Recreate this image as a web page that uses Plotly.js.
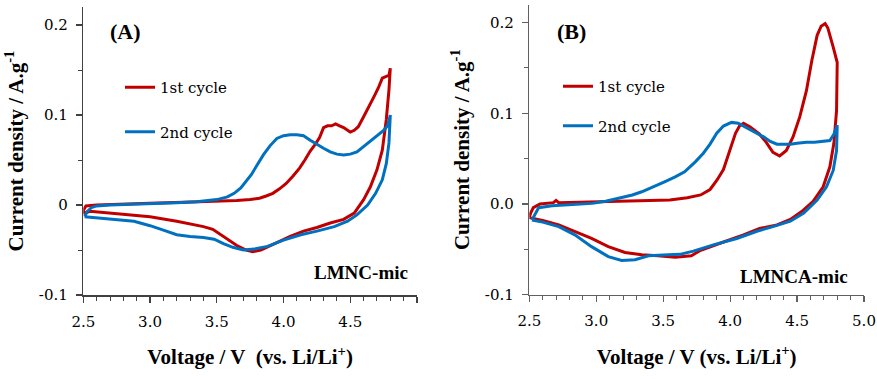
<!DOCTYPE html>
<html>
<head>
<meta charset="utf-8">
<script src="https://cdn.plot.ly/plotly-3.0.1.min.js"></script>
<style>html,body{margin:0;padding:0;background:#fff;}#chart{width:877px;height:379px;}</style>
</head>
<body>
<div id="chart"></div>
<script>
// ---- Data ----
const seriesNames = ["1st cycle", "2nd cycle"];
const panelLabels = ["(A)", "(B)"];
const sampleNames = ["LMNC-mic", "LMNCA-mic"];
const xTickVals = [2.5, 3.0, 3.5, 4.0, 4.5, 5.0];
const xTickTextA = ["2.5", "3.0", "3.5", "4.0", "4.5", " "];
const xTickTextB = ["2.5", "3.0", "3.5", "4.0", "4.5", "5.0"];
const yTickVals = [-0.1, 0, 0.1, 0.2];
const yTickTextA = ["-0.1", "0", "0.1", "0.2"];
const yTickTextB = ["-0.1", "0.0", "0.1", "0.2"];

// Panel A, 1st cycle (anodic sweep then cathodic sweep)
const voltA1 = [2.50, 2.52, 2.60, 2.75, 3.00, 3.25, 3.50, 3.65, 3.75, 3.82, 3.87, 3.92, 3.97, 4.02, 4.07, 4.12, 4.16, 4.20, 4.24, 4.27, 4.30, 4.33, 4.36, 4.39, 4.42, 4.45, 4.48, 4.50, 4.53, 4.56, 4.60, 4.64, 4.68, 4.71, 4.74, 4.77, 4.79, 4.80,
                4.79, 4.77, 4.74, 4.70, 4.65, 4.60, 4.53, 4.45, 4.35, 4.25, 4.15, 4.05, 3.93, 3.83, 3.77, 3.72, 3.65, 3.58, 3.52, 3.47, 3.40, 3.30, 3.20, 3.00, 2.80, 2.65, 2.55, 2.51, 2.50];
const currA1 = [-0.006, -0.001, 0.000, 0.001, 0.002, 0.003, 0.004, 0.005, 0.006, 0.0075, 0.010, 0.013, 0.018, 0.024, 0.032, 0.041, 0.050, 0.060, 0.068, 0.075, 0.086, 0.088, 0.088, 0.090, 0.088, 0.086, 0.083, 0.081, 0.083, 0.087, 0.098, 0.109, 0.121, 0.130, 0.141, 0.143, 0.144, 0.152,
                0.128, 0.095, 0.061, 0.039, 0.020, 0.006, -0.009, -0.016, -0.020, -0.025, -0.029, -0.035, -0.043, -0.050, -0.052, -0.050, -0.045, -0.038, -0.031, -0.027, -0.024, -0.021, -0.018, -0.013, -0.010, -0.008, -0.007, -0.009, -0.006];

// Panel A, 2nd cycle
const voltA2 = [2.51, 2.53, 2.56, 2.60, 2.70, 2.85, 3.00, 3.20, 3.35, 3.50, 3.58, 3.63, 3.68, 3.72, 3.76, 3.80, 3.85, 3.90, 3.95, 4.00, 4.05, 4.10, 4.15, 4.20, 4.25, 4.30, 4.35, 4.40, 4.45, 4.50, 4.55, 4.60, 4.65, 4.70, 4.75, 4.78, 4.80,
                4.79, 4.77, 4.74, 4.69, 4.63, 4.55, 4.48, 4.38, 4.25, 4.13, 4.00, 3.88, 3.78, 3.70, 3.62, 3.55, 3.48, 3.40, 3.30, 3.20, 3.10, 3.00, 2.88, 2.72, 2.60, 2.53, 2.51];
const currA2 = [-0.013, -0.007, -0.003, -0.001, 0.000, 0.0005, 0.001, 0.0025, 0.0037, 0.006, 0.009, 0.013, 0.019, 0.026, 0.034, 0.044, 0.056, 0.066, 0.074, 0.077, 0.078, 0.078, 0.077, 0.072, 0.067, 0.063, 0.059, 0.0565, 0.0555, 0.0565, 0.059, 0.065, 0.071, 0.077, 0.083, 0.088, 0.100,
                0.069, 0.046, 0.028, 0.013, 0.000, -0.011, -0.018, -0.024, -0.029, -0.033, -0.039, -0.046, -0.049, -0.050, -0.047, -0.043, -0.038, -0.036, -0.035, -0.033, -0.028, -0.023, -0.018, -0.016, -0.014, -0.013, -0.013];

// Panel B, 1st cycle
const voltB1 = [2.50, 2.51, 2.53, 2.58, 2.68, 2.70, 2.72, 2.85, 3.00, 3.30, 3.55, 3.68, 3.78, 3.85, 3.90, 3.95, 4.00, 4.04, 4.07, 4.10, 4.15, 4.22, 4.27, 4.32, 4.37, 4.42, 4.47, 4.52, 4.57, 4.61, 4.65, 4.68, 4.71, 4.73, 4.77, 4.80,
                4.795, 4.775, 4.745, 4.695, 4.62, 4.545, 4.45, 4.35, 4.22, 4.10, 3.93, 3.78, 3.71, 3.59, 3.46, 3.34, 3.215, 3.09, 2.965, 2.84, 2.72, 2.60, 2.52, 2.50];
const currB1 = [-0.015, -0.010, -0.004, 0.000, 0.0015, 0.004, 0.0015, 0.002, 0.0026, 0.0033, 0.0045, 0.007, 0.010, 0.016, 0.026, 0.038, 0.059, 0.078, 0.086, 0.089, 0.085, 0.077, 0.068, 0.057, 0.053, 0.059, 0.074, 0.096, 0.125, 0.158, 0.186, 0.196, 0.199, 0.194, 0.173, 0.156,
                0.103, 0.067, 0.041, 0.019, 0.003, -0.007, -0.017, -0.023, -0.027, -0.034, -0.043, -0.051, -0.057, -0.0586, -0.057, -0.056, -0.0535, -0.047, -0.038, -0.030, -0.023, -0.018, -0.0157, -0.015];

// Panel B, 2nd cycle
const voltB2 = [2.52, 2.55, 2.57, 2.67, 2.80, 2.97, 3.07, 3.17, 3.27, 3.34, 3.43, 3.51, 3.59, 3.66, 3.74, 3.80, 3.85, 3.90, 3.95, 4.01, 4.06, 4.10, 4.15, 4.20, 4.25, 4.30, 4.35, 4.40, 4.45, 4.50, 4.57, 4.63, 4.70, 4.745, 4.775, 4.80,
                4.795, 4.77, 4.72, 4.65, 4.55, 4.45, 4.32, 4.20, 4.05, 3.875, 3.725, 3.625, 3.54, 3.45, 3.39, 3.29, 3.19, 3.09, 2.965, 2.84, 2.72, 2.60, 2.52];
const currB2 = [-0.0176, -0.010, -0.004, -0.002, -0.001, 0.0007, 0.003, 0.0063, 0.010, 0.0135, 0.019, 0.0245, 0.030, 0.0355, 0.0465, 0.056, 0.066, 0.078, 0.086, 0.090, 0.089, 0.086, 0.082, 0.078, 0.074, 0.069, 0.066, 0.066, 0.066, 0.067, 0.068, 0.068, 0.069, 0.070, 0.077, 0.0868,
                0.059, 0.037, 0.019, 0.0044, -0.010, -0.019, -0.025, -0.030, -0.038, -0.045, -0.052, -0.0555, -0.056, -0.0565, -0.057, -0.0615, -0.0623, -0.058, -0.047, -0.034, -0.025, -0.020, -0.0176];

// ---- Styling ----
const RED = "#C00000", BLUE = "#0070C0";
const tickFont = {family: "DejaVu Serif", size: 15, color: "#000"};
const titleFont = {family: "Liberation Serif", size: 21, color: "#000", weight: "bold"};
const labelFont = {family: "Liberation Serif", size: 22, color: "#000", weight: "bold"};
const sampleFont = {family: "Liberation Serif", size: 19, color: "#000", weight: "bold"};

function line(x, y, name, color, xa, ya, lg) {
  return {x: x, y: y, type: "scatter", mode: "lines", name: name,
          line: {color: color, width: 3}, xaxis: xa, yaxis: ya,
          legend: lg, legendgroup: lg + name, showlegend: true};
}

const data = [
  line(voltA1, currA1, seriesNames[0], RED, "x", "y", "legend"),
  line(voltA2, currA2, seriesNames[1], BLUE, "x", "y", "legend"),
  line(voltB1, currB1, seriesNames[0], RED, "x2", "y2", "legend2"),
  line(voltB2, currB2, seriesNames[1], BLUE, "x2", "y2", "legend2")
];

function xAxis(domain, anchor, ticktext, lineColor, titleText) {
  return {domain: domain, anchor: anchor, range: [2.5, 5.0], tickmode: "array",
          tickvals: xTickVals, ticktext: ticktext, ticks: "outside", ticklen: 6, tickwidth: 1.2,
          tickcolor: lineColor, showline: true, linecolor: lineColor, linewidth: 1.5,
          showgrid: false, zeroline: false, tickfont: tickFont, ticklabelstandoff: 6,
          minor: {tick0: 2.5, dtick: 0.1, ticks: "outside", ticklen: 4, tickwidth: 1, tickcolor: lineColor, showgrid: false},
          title: {text: titleText, font: titleFont, standoff: 20}};
}
function yAxis(domain, anchor, ticktext, lineColor) {
  return {domain: domain, anchor: anchor, range: [-0.1, 0.22], tickmode: "array",
          tickvals: yTickVals, ticktext: ticktext, ticks: "outside", ticklen: 6, tickwidth: 1.2,
          tickcolor: lineColor, showline: true, linecolor: lineColor, linewidth: 1.5,
          showgrid: false, zeroline: false, tickfont: tickFont, ticklabelstandoff: 5,
          minor: {tick0: -0.1, dtick: 0.05, ticks: "outside", ticklen: 4, tickwidth: 1, tickcolor: lineColor, showgrid: false},
          title: {text: "Current density / A.g<sup>-1</sup>", font: titleFont, standoff: 9}};
}

const W = 877, H = 379;
const layout = {
  width: W, height: H,
  margin: {l: 0, r: 0, t: 0, b: 0},
  paper_bgcolor: "#fff", plot_bgcolor: "rgba(0,0,0,0)",
  xaxis: xAxis([83.3 / W, 417 / W], "y", xTickTextA, "#404040", "Voltage / V&nbsp;&nbsp;(vs. Li/Li<sup>+</sup>)"),
  yaxis: yAxis([1 - 295 / H, 1 - 7 / H], "x", yTickTextA, "#404040"),
  xaxis2: xAxis([529.3 / W, 864 / W], "y2", xTickTextB, "#606060", "Voltage / V (vs. Li/Li<sup>+</sup>)"),
  yaxis2: yAxis([1 - 294.7 / H, 1 - 4.5 / H], "x2", yTickTextB, "#606060"),
  legend: {x: 120 / W, y: 1 - 71 / H, xanchor: "left", yanchor: "top", bgcolor: "rgba(0,0,0,0)",
           font: tickFont, tracegroupgap: 22, itemwidth: 30},
  legend2: {x: 558 / W, y: 1 - 70 / H, xanchor: "left", yanchor: "top", bgcolor: "rgba(0,0,0,0)",
            font: tickFont, tracegroupgap: 17, itemwidth: 30},
  annotations: [
    {text: panelLabels[0], xref: "paper", yref: "paper", x: 125 / W, y: 1 - 32 / H, xanchor: "center", yanchor: "middle", showarrow: false, font: labelFont},
    {text: panelLabels[1], xref: "paper", yref: "paper", x: 571.5 / W, y: 1 - 32 / H, xanchor: "center", yanchor: "middle", showarrow: false, font: labelFont},
    {text: sampleNames[0], xref: "paper", yref: "paper", x: 361 / W, y: 1 - 272 / H, xanchor: "center", yanchor: "middle", showarrow: false, font: sampleFont},
    {text: sampleNames[1], xref: "paper", yref: "paper", x: 793.5 / W, y: 1 - 276 / H, xanchor: "center", yanchor: "middle", showarrow: false, font: sampleFont}
  ]
};

Plotly.newPlot("chart", data, layout, {displayModeBar: false, staticPlot: true});
</script>
</body>
</html>
